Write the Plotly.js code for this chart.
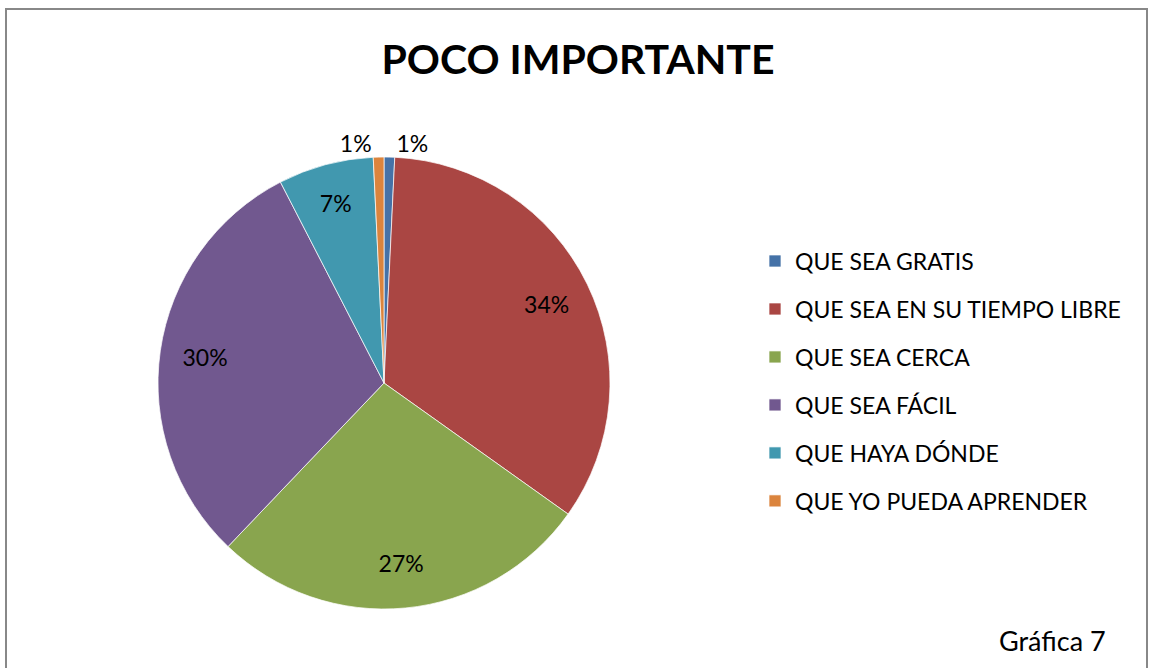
<!DOCTYPE html>
<html>
<head>
<meta charset="utf-8">
<script src="https://cdn.plot.ly/plotly-3.0.1.min.js"></script>
<style>
  html, body { margin: 0; padding: 0; background: #ffffff; }
  #chart { width: 1150px; height: 668px; }
</style>
</head>
<body>
<div id="chart"></div>
<script>
// ---- data ----
var categories = [
  'QUE SEA GRATIS',
  'QUE SEA EN SU TIEMPO LIBRE',
  'QUE SEA CERCA',
  'QUE SEA FÁCIL',
  'QUE HAYA DÓNDE',
  'QUE YO PUEDA APRENDER'
];
var counts = [1, 45, 36, 40, 9, 1];
var sliceColors = ['#4572A7', '#AA4643', '#89A54E', '#71588F', '#4198AF', '#DB843D'];
var labelPositions = ['outside', 'inside', 'inside', 'inside', 'inside', 'outside'];
var chartTitle = 'POCO IMPORTANTE';
var footnote = 'Gráfica 7';

var FONT = 'Lato, "Open Sans", sans-serif';
var W = 1150, H = 668;
var pieDomain = { x: [158 / W, 610 / W], y: [1 - 609 / H, 1 - 157 / H] };

// legend labels: padded with empty lines to reproduce the wide row spacing
var legendLabels = categories.map(function (c) {
  return '<br><br><span style="font-size:23px">' + c + '</span><br>';
});

// the coloured pie (no text)
var pieTrace = {
  type: 'pie',
  labels: legendLabels,
  values: counts,
  sort: false,
  direction: 'clockwise',
  rotation: 0,
  marker: { colors: sliceColors, line: { color: 'rgba(255,255,255,0.7)', width: 1 } },
  textinfo: 'none',
  hoverinfo: 'none',
  domain: pieDomain,
  showlegend: true
};

// transparent ring on top carrying the percentage labels (pushes them outward like Excel's best fit)
var labelTrace = {
  type: 'pie',
  labels: categories,
  values: counts,
  sort: false,
  direction: 'clockwise',
  rotation: 0,
  hole: 0.6,
  marker: { colors: categories.map(function () { return 'rgba(0,0,0,0)'; }), line: { width: 0 } },
  texttemplate: '%{percent:.0%}',
  textposition: labelPositions,
  insidetextorientation: 'horizontal',
  textfont: { family: FONT, size: 23, color: '#000000' },
  outsidetextfont: { family: FONT, size: 23, color: '#000000' },
  hoverinfo: 'none',
  domain: pieDomain,
  showlegend: false
};

var layout = {
  width: W,
  height: H,
  margin: { l: 0, r: 0, t: 0, b: 0 },
  paper_bgcolor: '#ffffff',
  plot_bgcolor: '#ffffff',
  font: { family: FONT, color: '#000000' },
  title: {
    text: '<b>' + chartTitle + '</b>',
    font: { family: FONT, size: 41, color: '#000000' },
    x: 578 / W, xanchor: 'center', xref: 'paper',
    y: 1 - 60 / H, yanchor: 'middle', yref: 'container'
  },
  legend: {
    x: 755 / W, xanchor: 'left',
    y: 1 - 232 / H, yanchor: 'top',
    font: { family: FONT, size: 8.65, color: '#000000' },
    bgcolor: 'rgba(0,0,0,0)',
    borderwidth: 0,
    traceorder: 'normal'
  },
  annotations: [{
    text: footnote,
    xref: 'paper', yref: 'paper',
    x: 1108 / W, xanchor: 'right',
    y: 1 - 640 / H, yanchor: 'middle',
    showarrow: false,
    font: { family: FONT, size: 27, color: '#000000' }
  }],
  shapes: [{
    type: 'rect', xref: 'paper', yref: 'paper',
    x0: 6 / W, x1: 1147 / W, y0: -0.05, y1: 1 - 9 / H,
    line: { color: '#888888', width: 2 },
    fillcolor: 'rgba(0,0,0,0)'
  }]
};

Plotly.newPlot('chart', [pieTrace, labelTrace], layout, { displayModeBar: false, staticPlot: true });
</script>
</body>
</html>
